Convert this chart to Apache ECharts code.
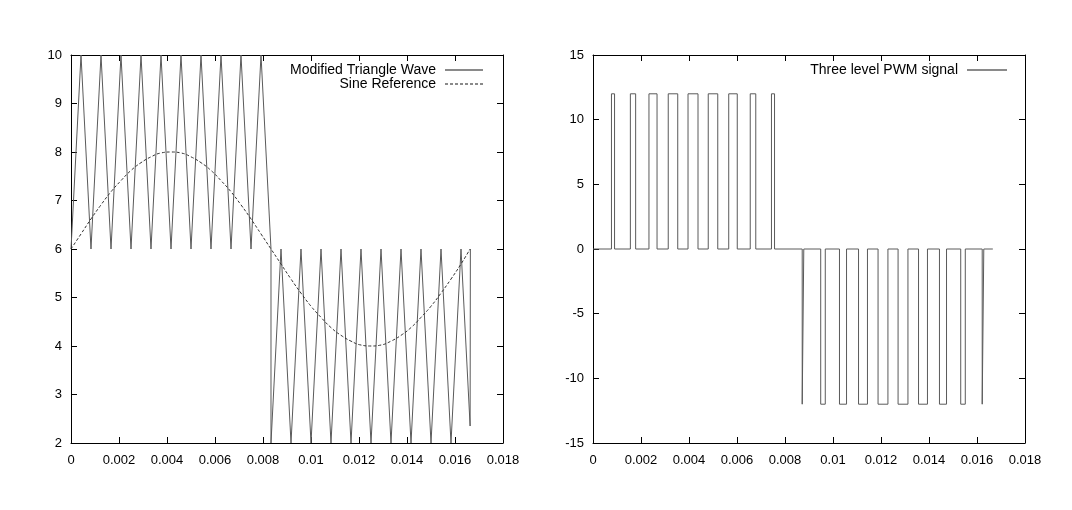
<!DOCTYPE html>
<html>
<head>
<meta charset="utf-8">
<script src="https://cdn.jsdelivr.net/npm/echarts@6/dist/echarts.min.js"></script>
<style>
  html, body { margin: 0; padding: 0; background: #fff; }
  #main { width: 1072px; height: 510px; }
</style>
</head>
<body>
<div id="main"></div>
<script>
// left panel: modified triangle carrier (vertices) and sine reference
const triTime = [
  0, 0.000417, 0.000833, 0.00125, 0.001667, 0.002083, 0.0025, 0.002917, 0.003333, 0.00375,
  0.004167, 0.004583, 0.005, 0.005417, 0.005833, 0.00625, 0.006667, 0.007083, 0.0075, 0.007917,
  0.008333, 0.008333, 0.00875, 0.009167, 0.009583, 0.01, 0.010417, 0.010833, 0.01125, 0.011667,
  0.012083, 0.0125, 0.012917, 0.013333, 0.01375, 0.014167, 0.014583, 0.015, 0.015417, 0.015833,
  0.01625, 0.01663, 0.01664,
];
const triValue = [
  6, 10, 6, 10, 6, 10, 6, 10, 6, 10,
  6, 10, 6, 10, 6, 10, 6, 10, 6, 10,
  6, 2, 6, 2, 6, 2, 6, 2, 6, 2,
  6, 2, 6, 2, 6, 2, 6, 2, 6, 2,
  6, 2.35, 6,
];

const sineTime = [
  0, 0.000417, 0.000833, 0.00125, 0.001667, 0.002083, 0.0025, 0.002917, 0.003333, 0.00375,
  0.004167, 0.004583, 0.005, 0.005417, 0.005833, 0.00625, 0.006667, 0.007083, 0.0075, 0.007917,
  0.008333, 0.00875, 0.009167, 0.009583, 0.01, 0.010417, 0.010833, 0.01125, 0.011667, 0.012083,
  0.0125, 0.012917, 0.013333, 0.01375, 0.014167, 0.014583, 0.015, 0.015417, 0.015833, 0.01625,
  0.01663,
];
const sineValue = [
  6.00, 6.31, 6.62, 6.91, 7.18, 7.41, 7.62, 7.78, 7.90, 7.98,
  8.00, 7.98, 7.90, 7.78, 7.62, 7.41, 7.18, 6.91, 6.62, 6.31,
  6.00, 5.69, 5.38, 5.09, 4.82, 4.59, 4.38, 4.22, 4.10, 4.02,
  4.00, 4.02, 4.10, 4.22, 4.38, 4.59, 4.82, 5.09, 5.38, 5.69,
  6.00,
];

// right panel: three level PWM, level holds from each edge time to the next
const pwmTime = [
  0,
  0.000769, 0.000898, 0.001557, 0.001777, 0.002332, 0.002668, 0.003135, 0.003531,
  0.003959, 0.004375, 0.004802, 0.005198, 0.005655, 0.006011, 0.006552, 0.006782,
  0.007436, 0.007564,
  0.008717, 0.008783, 0.009488, 0.009678, 0.010270, 0.010564, 0.011064, 0.011436,
  0.011877, 0.012289, 0.012711, 0.013123, 0.013564, 0.013936, 0.014436, 0.014730,
  0.015322, 0.015512, 0.016217, 0.016283,
  0.01666,
];
const pwmLevel = [
  0,
  12, 0, 12, 0, 12, 0, 12, 0,
  12, 0, 12, 0, 12, 0, 12, 0,
  12, 0,
  -12, 0, -12, 0, -12, 0, -12, 0,
  -12, 0, -12, 0, -12, 0, -12, 0,
  -12, 0, -12, 0,
  0,
];

const xTicks = { min: 0, max: 0.018, interval: 0.002 };

const chart = echarts.init(document.getElementById('main'));

const font = 'Liberation Sans, Arial, Helvetica, sans-serif';

function pairs(xs, ys) {
  return xs.map((x, i) => [x, ys[i]]);
}

function xAxisFor(gridIndex, mirror) {
  return {
    type: 'value',
    gridIndex: gridIndex,
    position: mirror ? 'top' : 'bottom',
    min: xTicks.min,
    max: xTicks.max,
    interval: xTicks.interval,
    axisLine: { show: true, onZero: false, lineStyle: { color: '#000', width: 1 } },
    axisTick: { show: true, inside: true, length: 6, lineStyle: { color: '#000' } },
    axisLabel: {
      show: !mirror,
      color: '#000',
      fontFamily: font,
      fontSize: 13,
      margin: 11,
    },
    splitLine: { show: false },
  };
}

function yAxisFor(gridIndex, mirror, min, max, interval) {
  return {
    type: 'value',
    gridIndex: gridIndex,
    position: mirror ? 'right' : 'left',
    min: min,
    max: max,
    interval: interval,
    axisLine: { show: true, onZero: false, lineStyle: { color: '#000', width: 1 } },
    axisTick: { show: true, inside: true, length: 6, lineStyle: { color: '#000' } },
    axisLabel: {
      show: !mirror,
      color: '#000',
      fontFamily: font,
      fontSize: 13,
      margin: 9,
    },
    splitLine: { show: false },
  };
}

function legendAt(name, right, top, width) {
  return {
    data: [name],
    right: right,
    top: top,
    align: 'right',
    selectedMode: false,
    itemWidth: width,
    itemHeight: 10,
    padding: 0,
    itemStyle: { opacity: 0 },
    lineStyle: { color: '#8a8a8a' },
    textStyle: { color: '#000', fontFamily: font, fontSize: 14, padding: [0, 4, 0, 0] },
  };
}

const option = {
  backgroundColor: '#fff',
  animation: false,
  grid: [
    { left: 71, top: 55, width: 432, height: 388 },
    { left: 593, top: 55, width: 432, height: 388 },
  ],
  legend: [
    legendAt('Modified Triangle Wave', 588, 63, 38),
    legendAt('Sine Reference', 588, 77, 38),
    legendAt('Three level PWM signal', 64, 63, 40),
  ],
  xAxis: [
    xAxisFor(0, false),
    xAxisFor(0, true),
    xAxisFor(1, false),
    xAxisFor(1, true),
  ],
  yAxis: [
    yAxisFor(0, false, 2, 10, 1),
    yAxisFor(0, true, 2, 10, 1),
    yAxisFor(1, false, -15, 15, 5),
    yAxisFor(1, true, -15, 15, 5),
  ],
  series: [
    {
      name: 'Modified Triangle Wave',
      type: 'line',
      xAxisIndex: 0,
      yAxisIndex: 0,
      symbol: 'none',
      data: pairs(triTime, triValue),
      lineStyle: { color: '#5a5a5a', width: 1 },
      itemStyle: { color: '#5a5a5a' },
    },
    {
      name: 'Sine Reference',
      type: 'line',
      xAxisIndex: 0,
      yAxisIndex: 0,
      symbol: 'none',
      smooth: true,
      data: pairs(sineTime, sineValue),
      lineStyle: { color: '#333', width: 1, type: [3, 2] },
      itemStyle: { color: '#333' },
    },
    {
      name: 'Three level PWM signal',
      type: 'line',
      xAxisIndex: 2,
      yAxisIndex: 2,
      symbol: 'none',
      step: 'end',
      data: pairs(pwmTime, pwmLevel),
      lineStyle: { color: '#5a5a5a', width: 1 },
      itemStyle: { color: '#5a5a5a' },
    },
  ],
};

chart.setOption(option);
</script>
</body>
</html>
